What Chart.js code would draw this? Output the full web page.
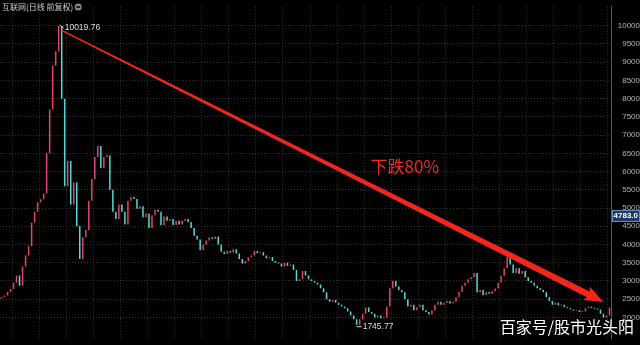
<!DOCTYPE html>
<html>
<head>
<meta charset="utf-8">
<script src="https://cdn.jsdelivr.net/npm/chart.js@4"></script>
<style>
  html, body { margin: 0; padding: 0; background: #000; }
  #wrap { width: 640px; height: 345px; }
</style>
</head>
<body>
<div id="wrap"><canvas id="kChart"></canvas></div>
<script>
// daily closes (left to right)
const closes = [
  2560, 2600, 2700, 2780, 2950, 3150, 2870, 3400, 3700, 3950,
  4600, 4900, 5160, 5240, 5400, 6500, 7700, 8900, 9300, 9990,
  8000, 5600, 6290, 5100, 5700, 4500, 3600, 4200, 4400, 5200,
  5800, 6400, 6700, 6100, 6400, 6450, 5500, 4900, 4700, 5100,
  4900, 4550, 5200, 5300, 5250, 4980, 5050, 4750, 4850, 4450,
  4800, 4950, 4900, 4530, 4770, 4650, 4700, 4530, 4650, 4550,
  4650, 4700, 4620, 4450, 4240, 4140, 3850, 4000, 4110, 4190,
  4150, 4220, 4000, 3800, 3740, 3820, 3780, 3870, 3750, 3600,
  3480, 3550, 3650, 3700, 3820, 3760, 3790, 3700, 3620, 3660,
  3550, 3500, 3480, 3400, 3500, 3420, 3450, 3300, 3000, 3050,
  3270, 3150, 3050, 3000, 2950, 2900, 2800, 2690, 2500, 2430,
  2480, 2400, 2350, 2300, 2250, 2160, 2050, 1950, 1800, 1950,
  2100, 2270, 2150, 2100, 2000, 2050, 1980, 2000, 2300, 2800,
  3000, 2850, 2750, 2690, 2500, 2300, 2350, 2200, 2280, 2350,
  2200, 2150, 2080, 2200, 2350, 2430, 2350, 2400, 2450, 2380,
  2430, 2550, 2700, 2870, 2950, 3050, 3100, 3220, 2690, 2750,
  2610, 2700, 2650, 2720, 2790, 2950, 3140, 3350, 3660, 3450,
  3220, 3350, 3200, 3270, 3100, 3000, 2950, 2870, 2800, 2750,
  2690, 2550, 2450, 2350, 2400, 2330, 2350, 2280, 2250, 2220,
  2180, 2200, 2150, 2160, 2250, 2290, 2260, 2240, 2220, 2100,
  2000, 2050, 2270
];
const firstOpen = 2520;
const yTicks = [2000, 2500, 3000, 3500, 4000, 4500, 5000, 5500, 6000, 6500, 7000, 7500, 8000, 8500, 9000, 9500, 10000];

const peakIndex = 19, peakValue = 10019.76;
const lowIndex = 118, lowValue = 1745.77;
const lastPrice = 4783.0;
const arrowFrom = [20, 9870];
const arrowTo = [200, 2425];
const dropLabelAt = [134, 6130];

const titleText = '互联网(日线 前复权)';
const dropText = '下跌80%';
const watermark = '百家号/股市光头阳';

const UP = '#e5436a';
const DOWN = '#55dada';

const opens = closes.map((c, i) => i === 0 ? firstOpen : closes[i - 1]);
const bodies = closes.map((c, i) => [opens[i], c]);
const colors = closes.map((c, i) => c >= opens[i] ? UP : DOWN);
const days = closes.map((c, i) => String(i));

const overlay = {
  id: 'overlay',
  beforeDraw(chart) {
    const ctx = chart.ctx;
    ctx.save();
    ctx.fillStyle = '#000';
    ctx.fillRect(0, 0, chart.width, chart.height);
    ctx.restore();
  },
  afterDatasetsDraw(chart) {
    const ctx = chart.ctx;
    const xs = chart.scales.x, ys = chart.scales.y;
    ctx.save();

    // arrow
    const x1 = xs.getPixelForValue(arrowFrom[0]), y1 = ys.getPixelForValue(arrowFrom[1]);
    const x2 = xs.getPixelForValue(arrowTo[0]), y2 = ys.getPixelForValue(arrowTo[1]);
    const ang = Math.atan2(y2 - y1, x2 - x1);
    const len = Math.hypot(x2 - x1, y2 - y1);
    ctx.translate(x1, y1);
    ctx.rotate(ang);
    ctx.fillStyle = '#f2261b';
    ctx.beginPath();
    ctx.moveTo(0, -0.7);
    ctx.lineTo(len - 17, -3.2);
    ctx.lineTo(len - 19, -7.5);
    ctx.lineTo(len, 0);
    ctx.lineTo(len - 19, 7.5);
    ctx.lineTo(len - 17, 3.2);
    ctx.lineTo(0, 0.7);
    ctx.closePath();
    ctx.fill();
    ctx.setTransform(1, 0, 0, 1, 0, 0);

    // drop text
    ctx.fillStyle = '#ec2a22';
    ctx.font = '17px "Noto Sans CJK SC"';
    ctx.textAlign = 'center';
    ctx.textBaseline = 'middle';
    ctx.fillText(dropText, xs.getPixelForValue(dropLabelAt[0]), ys.getPixelForValue(dropLabelAt[1]));

    // peak / low marks
    ctx.strokeStyle = '#dddddd';
    ctx.fillStyle = '#dddddd';
    ctx.lineWidth = 1;
    ctx.font = '8.5px "Liberation Sans"';
    ctx.textAlign = 'left';
    const px = xs.getPixelForValue(peakIndex), py = ys.getPixelForValue(peakValue);
    ctx.beginPath();
    ctx.moveTo(px + 1, py);
    ctx.lineTo(px + 5, py + 3);
    ctx.stroke();
    ctx.fillText(peakValue.toFixed(2), px + 6, py + 3);
    const lx = xs.getPixelForValue(lowIndex), ly = ys.getPixelForValue(lowValue);
    ctx.beginPath();
    ctx.moveTo(lx, ly);
    ctx.lineTo(lx + 5, ly);
    ctx.stroke();
    ctx.fillText(lowValue.toFixed(2), lx + 6, ly);

    // last price box
    const by = ys.getPixelForValue(lastPrice);
    const ca = chart.chartArea;
    ctx.fillStyle = '#1d3a66';
    ctx.fillRect(ca.right + 1, by - 6, chart.width - ca.right - 1, 12);
    ctx.strokeStyle = '#6d8cc0';
    ctx.strokeRect(ca.right + 1.5, by - 5.5, chart.width - ca.right - 2, 11);
    ctx.fillStyle = '#ffffff';
    ctx.font = 'bold 8px "Liberation Sans"';
    ctx.textAlign = 'right';
    ctx.fillText(lastPrice.toFixed(1), chart.width - 2, by);

    // title
    ctx.fillStyle = '#cfcfcf';
    ctx.font = '8px "Noto Sans CJK SC"';
    ctx.textAlign = 'left';
    ctx.textBaseline = 'middle';
    ctx.fillText(titleText, 2, 7);
    const tw = ctx.measureText(titleText).width;
    ctx.beginPath();
    ctx.arc(tw + 7, 7, 3.5, 0, Math.PI * 2);
    ctx.fillStyle = '#8a8a8a';
    ctx.fill();
    ctx.fillStyle = '#222';
    ctx.fillRect(tw + 5, 6, 4, 2);

    // watermark
    ctx.font = '16px "Noto Sans CJK SC"';
    ctx.textAlign = 'right';
    ctx.shadowColor = 'rgba(0,0,0,0.8)';
    ctx.shadowBlur = 2;
    ctx.fillStyle = '#ffffff';
    ctx.fillText(watermark, 634, 327);
    ctx.restore();
  }
};

new Chart(document.getElementById('kChart'), {
  type: 'bar',
  data: {
    labels: days,
    datasets: [{
      data: bodies,
      backgroundColor: colors,
      borderWidth: 0,
      barPercentage: 1,
      categoryPercentage: 0.5,
      minBarLength: 1
    }]
  },
  options: {
    responsive: true,
    maintainAspectRatio: false,
    animation: false,
    layout: { padding: 0 },
    plugins: { legend: { display: false }, tooltip: { enabled: false } },
    scales: {
      x: {
        ticks: { display: false },
        border: { display: false, dash: [1, 2] },
        grid: {
          drawTicks: false,
          color: ctx => ctx.index % 9 === 4 ? '#333333' : 'rgba(0,0,0,0)',
          lineWidth: 1
        },
        afterFit: s => { s.height = 0; }
      },
      y: {
        position: 'right',
        min: 1430,
        max: 10520,
        afterBuildTicks: axis => { axis.ticks = yTicks.map(v => ({ value: v })); },
        afterFit: s => { s.width = 29; },
        border: { display: true, color: '#5a5a5a', width: 1, dash: [1, 2] },
        grid: { color: '#333333', drawTicks: false },
        ticks: {
          color: '#b4b4b4',
          font: { size: 8, family: 'Liberation Sans' },
          crossAlign: 'far',
          padding: 2,
          callback: v => String(v)
        }
      }
    }
  },
  plugins: [overlay]
});
</script>
</body>
</html>
